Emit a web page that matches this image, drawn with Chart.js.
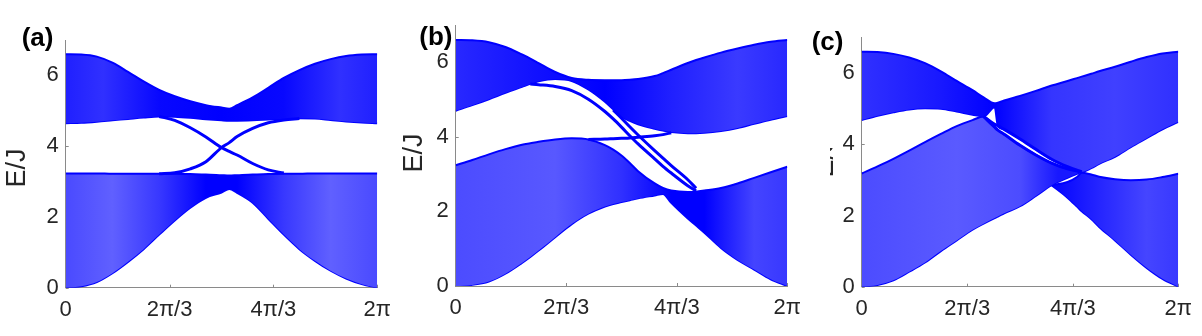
<!DOCTYPE html>
<html><head><meta charset="utf-8">
<script src="https://cdn.jsdelivr.net/npm/chart.js@4.4.1/dist/chart.umd.min.js"></script>
<style>
html,body{margin:0;padding:0;background:#fff;width:1202px;height:336px;overflow:hidden}
canvas{position:absolute;top:0}
</style></head><body>
<canvas id="ca" style="left:0px" width="400" height="336"></canvas>
<canvas id="cb" style="left:400px" width="410" height="336"></canvas>
<canvas id="cc" style="left:800px" width="402" height="336"></canvas>
<script>
// ---- tick labels / text ----
const xTickVals = [0, 2/3, 4/3, 2];          // k in units of pi
const xTickLabels = ['0', '2\u03c0/3', '4\u03c0/3', '2\u03c0'];
const yTickVals = [0, 2, 4, 6];
const panelLabels = ['(a)', '(b)', '(c)'];
const yTitle = 'E/J';

// ---- panel (a) ----
const kA = [0,0.1,0.2,0.3,0.4,0.5,0.6,0.7,0.8,0.9,1.0,1.05,1.1,1.2,1.3,1.4,1.5,1.6,1.7,1.8,1.9,2.0];
const aTopHi = [6.60,6.59,6.53,6.36,6.10,5.83,5.59,5.41,5.27,5.16,5.09,5.06,5.16,5.38,5.65,5.93,6.15,6.33,6.46,6.55,6.59,6.60];
const aTopLo = [4.65,4.66,4.69,4.73,4.77,4.81,4.84,4.83,4.80,4.76,4.73,4.72,4.72,4.73,4.75,4.77,4.79,4.78,4.74,4.70,4.67,4.65];
const aBotHi = [3.23,3.23,3.23,3.22,3.22,3.22,3.22,3.22,3.21,3.20,3.18,3.17,3.18,3.20,3.21,3.22,3.22,3.23,3.23,3.23,3.23,3.23];
const aBotLo = [0,0.04,0.16,0.41,0.73,1.09,1.50,1.90,2.26,2.54,2.69,2.79,2.68,2.40,1.95,1.50,1.09,0.76,0.48,0.26,0.10,0];
const aEdgeDn = [null,null,null,null,null,null,4.84,4.73,4.52,4.26,3.96,3.85,3.75,3.51,3.33,3.24,null,null,null,null,null,null];
const aEdgeUp = [null,null,null,null,null,null,3.22,3.25,3.36,3.56,3.96,4.10,4.27,4.50,4.66,4.74,4.78,null,null,null,null,null];

// ---- panel (b) ----
const kB = [0,0.1,0.2,0.3,0.4,0.45,0.5,0.6,0.7,0.8,0.9,0.95,1.0,1.05,1.1,1.2,1.25,1.3,1.4,1.45,1.5,1.6,1.7,1.8,1.9,2.0];
const bTopHi = [6.60,6.59,6.54,6.41,6.21,6.10,5.98,5.74,5.58,5.53,5.52,5.52,5.52,5.53,5.55,5.63,5.71,5.80,5.98,6.06,6.13,6.26,6.37,6.47,6.55,6.60];
const bTopLo = [4.70,4.85,5.01,5.18,5.34,5.42,5.49,5.55,5.50,5.27,4.94,4.74,4.54,4.43,4.34,4.22,4.17,4.13,4.10,4.10,4.11,4.16,4.24,4.35,4.46,4.56];
const bBotHi = [3.24,3.38,3.53,3.67,3.79,3.83,3.87,3.93,3.96,3.93,3.78,3.66,3.50,3.30,3.08,2.75,2.63,2.56,2.52,2.53,2.56,2.63,2.75,2.90,3.05,3.20];
const bBotLo = [0,0.03,0.12,0.33,0.62,0.78,0.95,1.31,1.66,1.94,2.13,2.20,2.25,2.30,2.35,2.43,2.47,2.23,1.81,1.62,1.43,1.02,0.70,0.44,0.18,0];
const bEdgeU = [null,null,null,null,null,null,null,null,null,null,null,4.72,4.50,4.27,4.05,3.63,3.43,3.23,2.85,2.62,null,null,null,null,null,null];
const bEdgeL = [null,null,null,null,null,5.42,5.40,5.35,5.24,5.01,4.68,4.48,4.26,4.03,3.81,3.41,3.21,3.03,2.69,2.55,null,null,null,null,null,null];
const bEdgeFlat = [null,null,null,null,null,null,null,null,null,3.93,3.94,3.95,3.96,3.97,3.99,4.03,4.06,4.11,null,null,null,null,null,null,null,null];

// ---- panel (c) ----
const kC = [0,0.1,0.2,0.3,0.4,0.5,0.6,0.7,0.77,0.84,0.86,0.9,1.0,1.1,1.2,1.3,1.36,1.39,1.45,1.5,1.6,1.7,1.8,1.9,2.0];
const cTopHi = [6.60,6.59,6.54,6.44,6.28,6.05,5.78,5.52,5.32,5.15,5.17,5.23,5.36,5.50,5.65,5.78,5.86,5.90,5.98,6.05,6.18,6.32,6.45,6.55,6.60];
const cTopLo = [4.68,4.80,4.90,4.98,5.01,5.00,4.92,4.83,4.78,5.04,4.52,4.42,4.15,3.86,3.58,3.37,3.27,3.23,3.33,3.45,3.65,3.92,4.17,4.42,4.63];
const cLLHi = [3.18,3.38,3.59,3.82,4.06,4.29,4.51,4.68,4.78,4.48,4.40,4.28,3.97,3.70,3.47,3.31,3.25,3.23,null,null,null,null,null,null,null];
const cLLLo = [0,0.05,0.18,0.42,0.68,1.00,1.30,1.60,1.77,1.93,1.97,2.06,2.26,2.55,2.85,3.06,3.17,3.23,null,null,null,null,null,null,null];
const cLRHi = [null,null,null,null,null,null,null,null,null,null,null,null,null,null,2.85,2.94,3.08,3.20,3.15,3.09,3.02,2.99,3.01,3.08,3.17];
const cLRLo = [null,null,null,null,null,null,null,null,null,null,null,null,null,null,2.85,2.50,2.25,2.12,1.90,1.68,1.30,0.90,0.53,0.22,0];
const cEdgeU = [null,null,null,null,null,null,null,null,4.78,4.56,4.52,4.42,4.15,3.86,3.58,3.37,3.27,3.23,null,null,null,null,null,null,null];
const cEdgeL = [null,null,null,null,null,null,null,null,4.78,4.48,4.40,4.28,3.97,3.70,3.47,3.31,3.25,3.23,null,null,null,null,null,null,null];

// ---- helpers ----
const BLUE = '#0000ff';
const AXIS = '#8a8a8a';
const FONT = '"Liberation Sans", Arial, sans-serif';
function pts(k, v){ const o=[]; for(let i=0;i<k.length;i++){ if(v[i]!==null) o.push({x:k[i], y:v[i]}); } return o; }
function grad(stops){
  return (ctx) => {
    const ch = ctx.chart, a = ch.chartArea;
    if (!a) return BLUE;
    const g = ch.ctx.createLinearGradient(a.left, 0, a.right, 0);
    stops.forEach(s => g.addColorStop(s[0], s[1]));
    return g;
  };
}
function band(k, hi, lo, stops){
  return [
    {data: pts(k, hi), fill: '+1', backgroundColor: grad(stops), borderColor: BLUE, borderWidth: 2, order: 2},
    {data: pts(k, lo), fill: false, borderColor: BLUE, borderWidth: 2, order: 2}
  ];
}
function edge(k, v){ return {data: pts(k, v), fill: false, borderColor: BLUE, borderWidth: 3, order: 1}; }

const decor = {
  id: 'decor',
  beforeDatasetsDraw(chart, args, o){
    const {ctx, chartArea: a, scales: {x, y}} = chart;
    ctx.save(); ctx.strokeStyle = AXIS; ctx.lineWidth = 1; ctx.beginPath();
    xTickVals.forEach(v => { const p = Math.round(x.getPixelForValue(v)) + 0.5; ctx.moveTo(p, a.bottom); ctx.lineTo(p, a.bottom - 3); });
    yTickVals.forEach(v => { const p = Math.round(y.getPixelForValue(v)) + 0.5; ctx.moveTo(a.left, p); ctx.lineTo(a.left + 3, p); });
    ctx.stroke(); ctx.restore();
  },
  afterDraw(chart, args, o){
    const ctx = chart.ctx;
    ctx.save();
    ctx.fillStyle = '#000'; ctx.textAlign = 'left'; ctx.textBaseline = 'alphabetic';
    ctx.font = 'bold 26px ' + FONT;
    ctx.fillText(o.label, o.lx, o.ly);
    ctx.restore();
    ctx.save();
    if (o.clip) { ctx.beginPath(); ctx.rect(o.clip[0], o.clip[1], o.clip[2], o.clip[3]); ctx.clip(); }
    ctx.fillStyle = '#262626'; ctx.font = '27px ' + FONT;
    ctx.translate(o.tx, o.ty); ctx.rotate(-Math.PI/2);
    ctx.textAlign = 'center'; ctx.textBaseline = 'alphabetic';
    ctx.fillText(yTitle, 0, 0);
    ctx.restore();
  }
};

function makeChart(id, datasets, pad, yW, xH, deco){
  return new Chart(document.getElementById(id), {
    type: 'line',
    data: {datasets},
    plugins: [decor],
    options: {
      responsive: false, animation: false, events: [],
      layout: {padding: pad},
      elements: {point: {radius: 0}, line: {cubicInterpolationMode: 'monotone'}},
      plugins: {legend: {display: false}, tooltip: {enabled: false}, decor: deco},
      scales: {
        x: {type: 'linear', min: 0, max: 2,
            grid: {display: false, drawTicks: false},
            border: {display: true, color: AXIS, width: 1},
            afterFit: s => { s.height = xH; },
            afterBuildTicks: s => { s.ticks = xTickVals.map(v => ({value: v})); },
            ticks: {padding: 9, color: '#262626', font: {family: FONT, size: 22},
                    maxRotation: 0, autoSkip: false,
                    callback: (v, i) => xTickLabels[i]}},
        y: {type: 'linear', min: 0, max: 7,
            grid: {display: false, drawTicks: false},
            border: {display: true, color: AXIS, width: 1},
            afterFit: s => { s.width = yW; },
            afterBuildTicks: s => { s.ticks = yTickVals.map(v => ({value: v})); },
            ticks: {padding: 7, color: '#262626', font: {family: FONT, size: 22},
                    callback: v => String(v)}}
      }
    }
  });
}

// panel (a)
makeChart('ca', [
  edge(kA, aEdgeDn), edge(kA, aEdgeUp),
  ...band(kA, aTopHi, aTopLo, [[0,'#2020ff'],[0.12,'#3030ff'],[0.3,'#0808ff'],[0.5,'#0000ff'],[0.7,'#0808ff'],[0.88,'#3030ff'],[1,'#2020ff']]),
  ...band(kA, aBotHi, aBotLo, [[0,'#4a4aff'],[0.15,'#6060ff'],[0.3,'#3838ff'],[0.45,'#0000ff'],[0.55,'#0000ff'],[0.7,'#3838ff'],[0.85,'#6060ff'],[1,'#4a4aff']])
], {left: 0, top: 40, right: 18.7, bottom: 8.3}, 65.7, 40,
  {label: panelLabels[0], lx: 21.7, ly: 46, tx: 25, ty: 168});

// panel (b)
makeChart('cb', [
  edge(kB, bEdgeU), edge(kB, bEdgeL), edge(kB, bEdgeFlat),
  ...band(kB, bTopHi, bTopLo, [[0,'#2828ff'],[0.25,'#1010ff'],[0.45,'#0000ff'],[0.65,'#2020ff'],[0.85,'#3a3aff'],[1,'#2828ff']]),
  ...band(kB, bBotHi, bBotLo, [[0,'#4c4cff'],[0.3,'#5858ff'],[0.5,'#3030ff'],[0.65,'#0000ff'],[0.75,'#0000ff'],[0.9,'#4444ff'],[1,'#3838ff']])
], {left: 0, top: 25, right: 20.7, bottom: 10}, 55.7, 40,
  {label: panelLabels[1], lx: 19.3, ly: 44.5, tx: 22, ty: 153});

// panel (c)
makeChart('cc', [
  edge(kC, cEdgeU), edge(kC, cEdgeL),
  ...band(kC, cTopHi, cTopLo, [[0,'#3030ff'],[0.25,'#1818ff'],[0.42,'#0000ff'],[0.6,'#3535ff'],[0.8,'#4040ff'],[1,'#3030ff']]),
  ...band(kC, cLLHi, cLLLo, [[0,'#4c4cff'],[0.3,'#5a5aff'],[0.5,'#4c4cff'],[0.62,'#1818ff'],[1,'#1818ff']]),
  ...band(kC, cLRHi, cLRLo, [[0,'#0808ff'],[0.62,'#0808ff'],[0.75,'#2525ff'],[0.9,'#4545ff'],[1,'#3838ff']])
], {left: 0, top: 37.5, right: 23.7, bottom: 9.3}, 61.7, 40,
  {label: panelLabels[2], lx: 11.7, ly: 49.5, tx: 33, ty: 158, clip: [30, 148, 4, 32]});
</script>
</body></html>
